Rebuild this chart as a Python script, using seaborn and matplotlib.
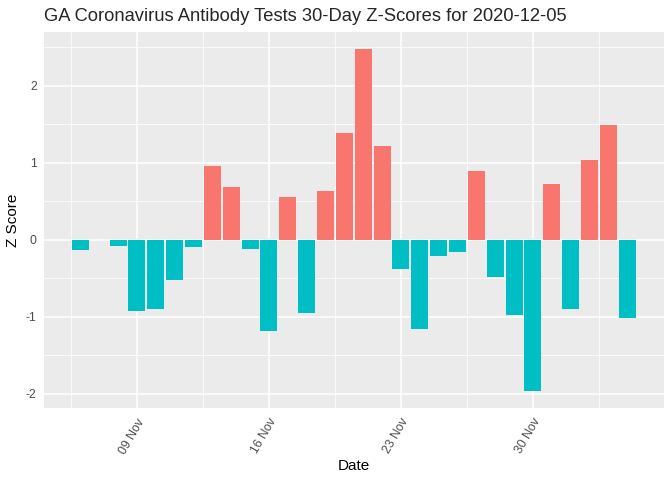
import pandas as pd
import numpy as np
import matplotlib
matplotlib.use("Agg")
import matplotlib.pyplot as plt
import matplotlib.dates as mdates
from matplotlib.ticker import MultipleLocator, FixedLocator
import seaborn as sns

# -------------------------
# Data
# -------------------------
dates = ["2020-11-06"] + [str(d.date()) for d in pd.date_range("2020-11-08", "2020-12-05")]
z_scores = [-0.13,
            -0.08, -0.92, -0.90, -0.52, -0.09, 0.96, 0.69, -0.12, -1.18, 0.56,
            -0.95, 0.64, 1.39, 2.48, 1.22, -0.38, -1.16, -0.21, -0.16, 0.90,
            -0.48, -0.97, -1.96, 0.73, -0.90, 1.04, 1.49, -1.01]

df = pd.DataFrame({"Date": pd.to_datetime(dates), "Z": z_scores})
df["num"] = mdates.date2num(df["Date"])
df["sign"] = np.where(df["Z"] > 0, "pos", "neg")

# -------------------------
# Style (ggplot-like)
# -------------------------
sns.set_theme(style="darkgrid", rc={
    "axes.facecolor": "#EBEBEB",
    "grid.color": "white",
    "axes.edgecolor": "#EBEBEB",
    "axes.unicode_minus": False,
})
plt.rcParams["font.family"] = ["Liberation Sans", "DejaVu Sans"]

fig, ax = plt.subplots(figsize=(6.72, 4.8), dpi=100)
fig.subplots_adjust(left=0.065, right=0.988, top=0.934, bottom=0.15)

sns.barplot(data=df, x="num", y="Z", hue="sign",
            palette={"pos": "#F8766D", "neg": "#00BFC4"},
            native_scale=True, width=0.9, dodge=False, saturation=1,
            linewidth=0, legend=False, ax=ax, zorder=3)

for s in ax.spines.values():
    s.set_visible(False)

# limits with 5% expansion like ggplot
x0 = df["num"].min() - 0.45
x1 = df["num"].max() + 0.45
span = x1 - x0
ax.set_xlim(x0 - 0.05 * span, x1 + 0.05 * span)
ymin, ymax = min(z_scores), max(z_scores)
yr = ymax - ymin
ax.set_ylim(ymin - 0.05 * yr, ymax + 0.05 * yr)

major_dates = mdates.date2num(pd.to_datetime(["2020-11-09", "2020-11-16", "2020-11-23", "2020-11-30"]))
minor_dates = np.concatenate([[major_dates[0] - 3.5], major_dates + 3.5])
ax.xaxis.set_major_locator(FixedLocator(major_dates))
ax.xaxis.set_minor_locator(FixedLocator(minor_dates))
ax.xaxis.set_major_formatter(mdates.DateFormatter("%d %b"))
ax.yaxis.set_major_locator(MultipleLocator(1))
ax.yaxis.set_minor_locator(MultipleLocator(0.5))

ax.grid(which="major", color="white", linewidth=1.1, zorder=0)
ax.grid(which="minor", color="white", linewidth=0.55, zorder=0)
ax.set_axisbelow(True)

ax.tick_params(axis="both", which="major", length=3, width=0.8, color="#333333",
               labelsize=8.8, labelcolor="#4D4D4D", pad=2)
ax.tick_params(axis="x", which="major", pad=3)
ax.tick_params(axis="both", which="minor", length=0)
for lab in ax.get_xticklabels():
    lab.set_rotation(60)
    lab.set_ha("right")
    lab.set_va("top")
    lab.set_rotation_mode("anchor")

ax.set_xlabel("Date", fontsize=11, color="black", labelpad=2)
ax.set_ylabel("Z Score", fontsize=11, color="black", labelpad=4)
ax.set_title("GA Coronavirus Antibody Tests 30-Day Z-Scores for 2020-12-05",
             fontsize=13.2, loc="left", x=0.0, pad=8)

plt.savefig("out.png", dpi=100)
plt.close()
